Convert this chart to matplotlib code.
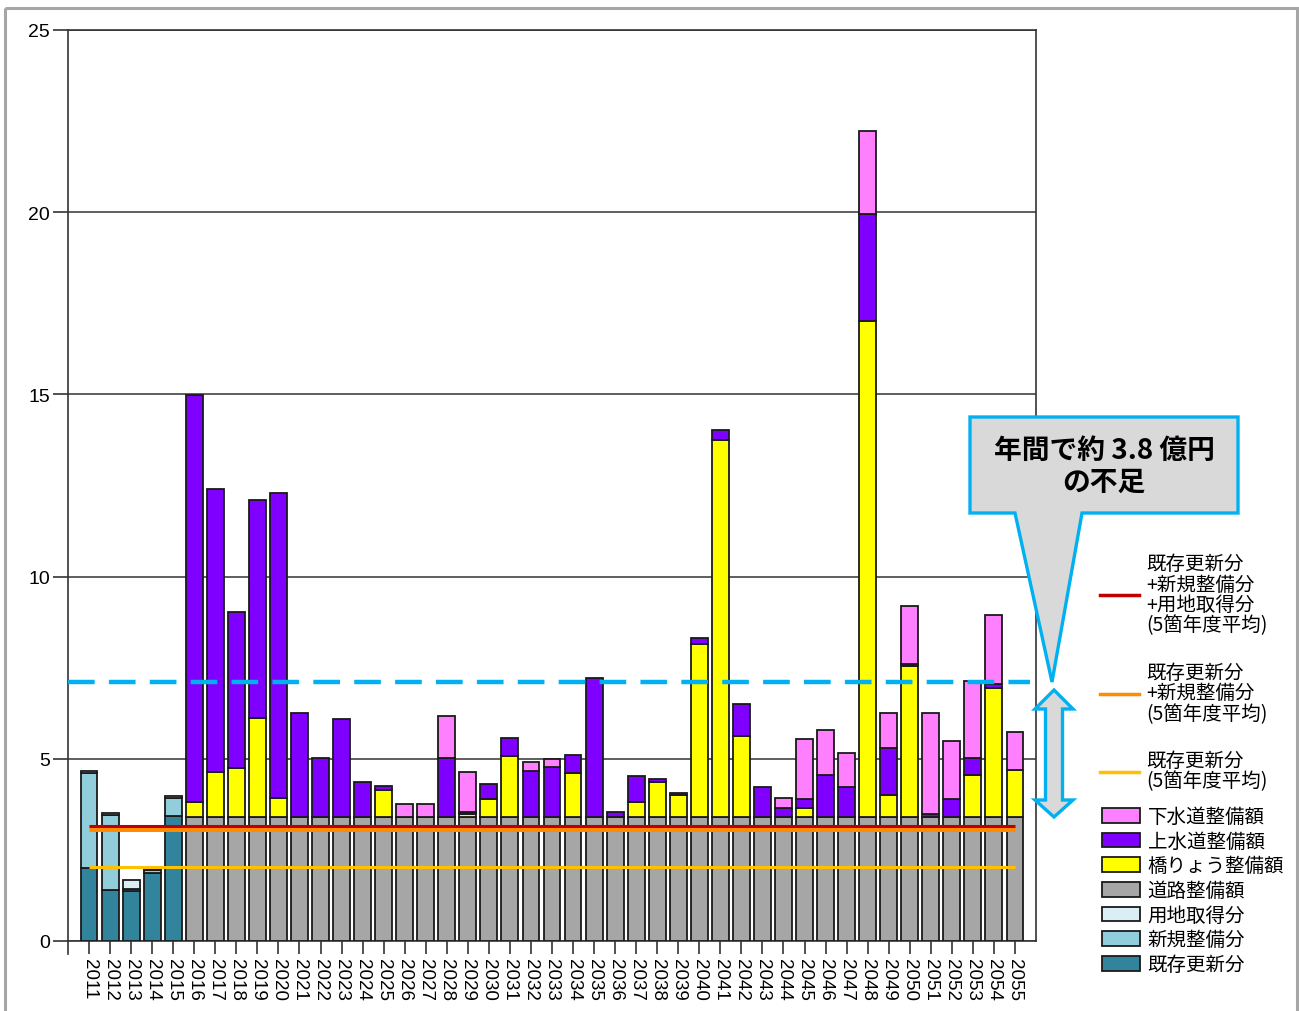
import numpy as np
import matplotlib
matplotlib.use("Agg")
import matplotlib.pyplot as plt
from matplotlib.patches import Polygon, Rectangle, Patch
from matplotlib.lines import Line2D
from matplotlib.transforms import Affine2D

plt.rcParams['font.family'] = ['Liberation Sans', 'Noto Sans CJK JP', 'DejaVu Sans']

# ---------------- data ----------------
years = [str(y) for y in range(2011, 2056)]

# 2011-2015 actual (既存更新分 / 新規整備分 / 用地取得分)
kizon  = [2.00, 1.41, 1.37, 1.87, 3.43] + [0] * 40
shinki = [2.62, 2.06, 0.05, 0.09, 0.49] + [0] * 40
youchi = [0.05, 0.05, 0.25, 0.02, 0.07] + [0] * 40

# 2016-2055 projection
road = [0] * 5 + [3.4] * 40
bridge = [0] * 5 + [0.41, 1.25, 1.34, 2.72, 0.52, 0, 0, 0, 0, 0.74,
                    0, 0, 0, 0.08, 0.49, 1.67, 0, 0, 1.21, 0,
                    0, 0.41, 0.95, 0.62, 4.75, 10.36, 2.23, 0, 0, 0.24,
                    0, 0, 13.61, 0.61, 4.16, 0, 0, 1.16, 3.53, 1.30]
water = [0] * 5 + [11.17, 7.75, 4.30, 5.99, 8.37, 2.86, 1.63, 2.69, 0.95, 0.12,
                   0, 0, 1.63, 0.05, 0.42, 0.51, 1.26, 1.38, 0.50, 3.82,
                   0.15, 0.71, 0.09, 0.04, 0.16, 0.25, 0.87, 0.83, 0.25, 0.26,
                   1.16, 0.83, 2.94, 1.30, 0.04, 0.09, 0.50, 0.46, 0.12, 0]
sewer = [0] * 5 + [0, 0, 0, 0, 0, 0, 0, 0, 0, 0,
                   0.37, 0.37, 1.14, 1.12, 0, 0, 0.25, 0.21, 0, 0,
                   0, 0, 0, 0, 0, 0, 0, 0, 0.28, 1.63,
                   1.24, 0.93, 2.28, 0.94, 1.60, 2.76, 1.60, 2.12, 1.90, 1.04]

avg_all = 3.16       # 既存更新分+新規整備分+用地取得分 (5箇年度平均)
avg_kn = 3.08        # 既存更新分+新規整備分 (5箇年度平均)
avg_k = 2.02         # 既存更新分 (5箇年度平均)
future_avg = 7.12    # 将来の年平均 (dashed)

series = [
    ("既存更新分", kizon, "#31849b"),
    ("新規整備分", shinki, "#92cddc"),
    ("用地取得分", youchi, "#dbeef4"),
    ("道路整備額", road, "#a6a6a6"),
    ("橋りょう整備額", bridge, "#ffff00"),
    ("上水道整備額", water, "#8000ff"),
    ("下水道整備額", sewer, "#ff80ff"),
]

W, H = 1299, 1012
fig = plt.figure(figsize=(W / 100, H / 100), dpi=100)
ax = fig.add_axes([68 / W, 1 - 942 / H, (1036 - 68) / W, (942 - 31) / H])

x = np.arange(len(years))
bottom = np.zeros(len(years))
handles = {}
for name, vals, col in series:
    v = np.array(vals, dtype=float)
    lw = [1.3 if h > 0 else 0 for h in v]
    ax.bar(x, v, 0.8, bottom=bottom, color=col, edgecolor="#1a1a1a",
           linewidth=lw, zorder=3)
    handles[name] = col
    bottom += v

# average lines
ax.hlines(avg_kn, x[0], x[-1], color="#ff8c00", linewidth=3.6, zorder=5)
ax.hlines(avg_all, x[0], x[-1], color="#c00000", linewidth=2.2, zorder=6)
ax.hlines(avg_k, x[0], x[-1], color="#ffc000", linewidth=2.2, zorder=5)
ax.hlines(future_avg, -1, 44.7, color="#00b0f0", linewidth=3.2,
          linestyles=(0, (6, 3.2)), zorder=7)

ax.set_xlim(-1, 45)
ax.set_ylim(0, 25)
ax.set_yticks([0, 5, 10, 15, 20, 25])
ax.yaxis.grid(True, color="#333333", linewidth=1.1, zorder=0)
ax.set_axisbelow(True)
ax.set_xticks(x)
ax.set_xticklabels(years, rotation=-90, fontsize=13.5)
ax.tick_params(axis="x", length=9.5, width=1.2, color="#333333", pad=3)
ax.tick_params(axis="y", length=11, width=1.2, color="#333333", labelsize=14, pad=2)
for s in ax.spines.values():
    s.set_color("#333333")
    s.set_linewidth(1.2)
# left spine extension below zero
ax.plot([-1, -1], [0, -0.35], color="#333333", linewidth=1.2, clip_on=False)

# pixel transform for annotation shapes
pix = Affine2D().scale(1 / W, -1 / H).translate(0, 1) + fig.transFigure

# outer frame
fig.add_artist(Rectangle((5, 9), 1292, 1010, transform=pix, fill=False,
                         edgecolor="#a6a6a6", linewidth=2.2, clip_on=False))

# callout
call = [(970, 418), (1238, 418), (1238, 514), (1082, 514), (1052, 683),
        (1015, 514), (970, 514)]
fig.add_artist(Polygon(call, closed=True, transform=pix, facecolor="#d9d9d9",
                       edgecolor="#00b0f0", linewidth=2.4, joinstyle="miter",
                       clip_on=False, zorder=10))
fig.text(1104 / W, 1 - 467 / H, "年間で約 3.8 億円\nの不足", ha="center", va="center",
         fontsize=20, fontweight="bold", family=["Noto Sans CJK JP"],
         linespacing=1.2, zorder=11)

# double arrow
cx = 1054
arr = [(cx, 691), (cx + 19, 710), (cx + 8.5, 710), (cx + 8.5, 801),
       (cx + 19, 801), (cx, 818), (cx - 19, 801), (cx - 8.5, 801),
       (cx - 8.5, 710), (cx - 19, 710)]
fig.add_artist(Polygon(arr, closed=True, transform=pix, facecolor="#d9d9d9",
                       edgecolor="#00b0f0", linewidth=2.4, joinstyle="miter",
                       clip_on=False, zorder=10))

# legends
line_h = [Line2D([], [], color="#c00000", linewidth=2.5),
          Line2D([], [], color="#ff8c00", linewidth=2.5),
          Line2D([], [], color="#ffc000", linewidth=2.5)]
line_l = ["既存更新分\n+新規整備分\n+用地取得分\n(5箇年度平均)",
          "既存更新分\n+新規整備分\n(5箇年度平均)",
          "既存更新分\n(5箇年度平均)"]
leg1 = fig.legend(line_h, line_l, loc="upper left",
                  bbox_to_anchor=(1100 / W, 1 - 554 / H), frameon=False,
                  prop={"family": ["Noto Sans CJK JP"], "size": 14},
                  handlelength=2.0, handletextpad=0.4, borderpad=0,
                  borderaxespad=0, labelspacing=1.35)
for t in leg1.get_texts():
    t.set_linespacing(0.97)

patch_names = ["下水道整備額", "上水道整備額", "橋りょう整備額", "道路整備額",
               "用地取得分", "新規整備分", "既存更新分"]
patch_h = [Patch(facecolor=handles[n], edgecolor="#1a1a1a", linewidth=1.3)
           for n in patch_names]
leg2 = fig.legend(patch_h, patch_names, loc="upper left",
                  bbox_to_anchor=(1102 / W, 1 - 807 / H), frameon=False,
                  prop={"family": ["Noto Sans CJK JP"], "size": 14},
                  handlelength=1.95, handleheight=0.8, handletextpad=0.4,
                  borderpad=0, borderaxespad=0, labelspacing=0.19)

fig.savefig("out.png", dpi=100)
